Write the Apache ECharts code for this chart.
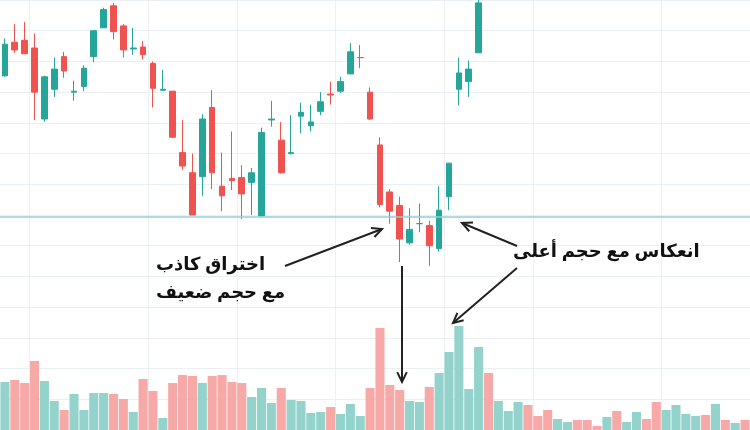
<!DOCTYPE html>
<html lang="ar">
<head>
<meta charset="UTF-8">
<title>اختراق كاذب</title>
<script src="https://cdn.jsdelivr.net/npm/echarts@6/dist/echarts.min.js"></script>
<style>html,body{margin:0;padding:0;background:#fff}</style>
</head>
<body>
<div id="chart" style="width:750px;height:430px;"></div>
<script>
// candles: [open, close, low, high] (price units)
var candles = [
  [359,392,358,398],[394,386,383,413],[396,382,382,415],[388,342,313,403],
  [314,358,311,359],[345,366,337,378],[379,364,357,384],[342,343,333,354],
  [348,367,343,370],[379,406,373,406],[409,428,409,430],[432,405,397,435],
  [411,386,378,413],[387,388,381,409],[389,381,376,395],[372,346,326,374],
  [344,345,343,365],[343,295,295,343],[279,265,261,313],[258,214,214,278],
  [254,314,234,319],[326,258,241,344],[244,234,218,279],[252,250,240,301],
  [253,236,210,266],[248,258,214,263],[213,300,213,305],[313,314,306,333],
  [292,258,257,311],[278,279,277,318],[317,321,299,331],[307,311,301,329],
  [322,332,318,342],[340,339,329,353],[343,353,341,358],[361,384,361,393],
  [378,378,367,391],[342,314,313,347],[287,225,222,295],[238,218,205,241],
  [224,189,165,233],[185,199,183,221],[205,205,196,226],[203,182,161,208],
  [179,219,176,244],[233,268,219,268],[345,362,328,378],[353,366,337,375],
  [383,435,383,440]
];
var volumes = [48,50,47,69,49,29,20,36,20,37,37,36,31,18,51,39,12,47,55,54,
  47,54,55,48,47,33,42,27,42,30,29,17,18,23,16,26,14,42,102,45,40,29,28,43,
  57,78,104,41,83,57,29,19,28,25,14,20,11,8,10,10,4,13,19,8,18,11,28,20,25,16,14,15,26,10,7,10];
var upFlags = [1,0,0,0,1,1,0,1,1,1,1,0,0,1,0,0,1,0,0,0,1,0,0,0,0,1,1,1,0,1,
  1,1,1,0,1,1,1,0,0,0,0,1,1,0,1,1,1,1,1,0,1,1,1,0,0,0,1,1,0,0,
  0,1,0,1,1,0,0,1,1,1,1,0,1,0,1,0];
var gridXIdx = [3,15,24,34,45,54,67];
var levelPrice = 212;

var cats = volumes.map(function (v, i) { return i; });
var candleData = cats.map(function (i) { return candles[i] || '-'; });
var volData = volumes.map(function (v, i) {
  return { value: v, itemStyle: { color: upFlags[i] ? '#93d3cc' : '#f7a9a7' } };
});

var chart = echarts.init(document.getElementById('chart'));
var font = '"Noto Sans", "DejaVu Sans", sans-serif';
function arrow(x1, y1, x2, y2) {
  var a = Math.atan2(y2 - y1, x2 - x1), L = 11, s = 0.45;
  return [
    { type: 'line', shape: { x1: x1, y1: y1, x2: x2, y2: y2 }, style: { stroke: '#222', lineWidth: 2 }, z: 100 },
    { type: 'polyline', shape: { points: [
      [x2 - L * Math.cos(a - s), y2 - L * Math.sin(a - s)], [x2, y2],
      [x2 - L * Math.cos(a + s), y2 - L * Math.sin(a + s)]] },
      style: { stroke: '#222', lineWidth: 2, fill: null }, z: 100 }
  ];
}
chart.setOption({
  animation: false,
  grid: [
    { left: 0, right: 0, top: -8, bottom: -10 },
    { left: 0, right: 0, top: 0, bottom: 0 }
  ],
  xAxis: [
    { type: 'category', data: cats, gridIndex: 0, boundaryGap: true,
      axisLine: { show: false }, axisTick: { show: false }, axisLabel: { show: false },
      splitLine: { show: true, interval: function (i) { return gridXIdx.indexOf(i) >= 0; },
        lineStyle: { color: '#eaf0f4' } } },
    { type: 'category', data: cats, gridIndex: 1, show: false }
  ],
  yAxis: [
    { type: 'value', gridIndex: 0, min: -10, max: 438, interval: 32,
      axisLabel: { show: false }, axisLine: { show: false }, axisTick: { show: false },
      splitLine: { lineStyle: { color: '#eaf0f4' } } },
    { type: 'value', gridIndex: 1, min: 0, max: 430, show: false, splitLine: { show: false } }
  ],
  series: [
    { type: 'bar', xAxisIndex: 1, yAxisIndex: 1, data: volData, barWidth: '92%', z: 1 },
    { type: 'candlestick', xAxisIndex: 0, yAxisIndex: 0, data: candleData, barWidth: '62%', z: 3,
      itemStyle: { color: '#26a69a', color0: '#ef5350', borderColor: '#26a69a', borderColor0: '#ef5350' },
      markLine: { silent: true, symbol: 'none', label: { show: false },
        lineStyle: { color: '#8ed0de', type: 'solid', width: 1.5 },
        data: [{ yAxis: levelPrice }] } }
  ],
  graphic: [
    { type: 'text', left: 156, top: 251, z: 100,
      style: { text: 'اختراق كاذب\nمع حجم ضعيف', font: 'bold 18px ' + font, fill: '#111',
        align: 'center', lineHeight: 28 } },
    { type: 'text', left: 513, top: 243, z: 100,
      style: { text: 'انعكاس مع حجم أعلى', font: 'bold 18px ' + font, fill: '#111' } }
  ].concat(arrow(285, 266, 382, 229), arrow(402, 266, 402, 382),
           arrow(517, 246, 462, 223), arrow(517, 268, 453, 323))
});
</script>
</body>
</html>
